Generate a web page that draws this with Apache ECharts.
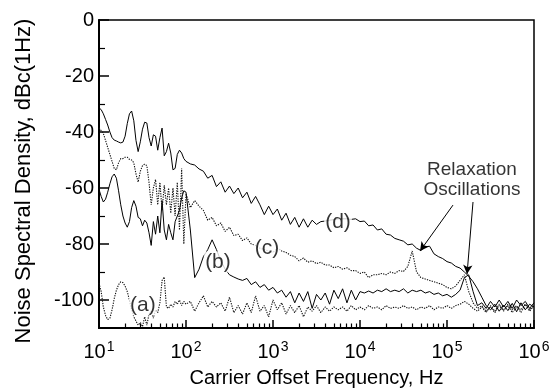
<!DOCTYPE html>
<html>
<head>
<meta charset="utf-8">
<script src="https://cdn.jsdelivr.net/npm/echarts@6/dist/echarts.min.js"></script>
<style>
html,body{margin:0;padding:0;background:#fff;}
#chart{width:551px;height:392px;}
</style>
</head>
<body>
<div id="chart"></div>
<script>
// Carrier offset frequency grid (Hz)
const freqHz = [
  10, 10.59, 11.22, 11.89, 12.59, 13.34, 14.13, 14.96, 15.85, 16.79,
  17.78, 18.84, 19.95, 21.13, 22.39, 23.71, 25.12, 26.61, 28.18, 29.85,
  31.62, 33.5, 35.48, 37.58, 39.81, 42.17, 44.67, 47.32, 50.12, 53.09,
  56.23, 59.57, 63.1, 66.83, 70.79, 74.99, 79.43, 84.14, 89.13, 94.41,
  100,
  112.2, 125.9, 141.3, 158.5, 177.8, 199.5, 223.9, 251.2, 281.8, 316.2,
  354.8, 398.1, 446.7, 501.2, 562.3, 631, 707.9, 794.3, 891.3, 1000,
  1122, 1259, 1413, 1585, 1778, 1995, 2239, 2512, 2818, 3162,
  3548, 3981, 4467, 5012, 5623, 6310, 7079, 7943, 8913, 10000,
  11220, 12590, 14130, 15850, 17780, 19950, 22390, 25120, 28180, 31620,
  35480, 39810, 44670, 50120, 56230, 63100, 70790, 79430, 89130, 100000,
  112200, 125900, 141300, 158500, 177800, 199500, 223900, 251200, 281800, 316200,
  354800, 398100, 446700, 501200, 562300, 631000, 707900, 794300, 891300, 1000000
];

// Noise spectral density, dBc(1Hz)
const dbA = [
  -94.0, -97.0, -102.5, -105.5, -107.0, -106.5, -103.5, -99.5, -96.5, -94.5,
  -93.5, -93.8, -95.0, -97.0, -100.0, -103.5, -106.0, -107.5, -109.0, -108.0,
  -109.5, -106.0, -109.0, -105.0, -104.0, -106.5, -103.5, -104.5, -101.0, -93.0,
  -91.8, -102.5, -103.0, -101.5, -102.5, -100.5, -101.5, -100.0, -102.0, -100.5,
  -101.5,
  -100.5, -104.0, -101.0, -98.5, -102.5, -100.5, -102.5, -101.0, -104.0, -99.0,
  -104.5, -102.0, -105.0, -101.0, -104.5, -98.5, -104.0, -102.0, -106.0, -100.0,
  -103.5, -101.0, -105.0, -102.0, -104.5, -102.0, -106.0, -102.5, -104.0, -102.0,
  -104.5, -102.5, -104.0, -102.5, -103.5, -102.5, -104.0, -102.0, -103.5, -102.5,
  -103.5, -102.0, -103.0, -102.5, -103.5, -102.0, -103.0, -102.5, -103.0, -102.0,
  -103.0, -102.5, -103.5, -102.5, -103.0, -102.0, -103.5, -102.5, -103.0, -102.0,
  -103.0, -102.0, -101.5, -100.5, -101.5, -103.0, -104.0, -102.5, -104.5, -102.0,
  -104.0, -101.5, -103.5, -102.0, -104.5, -102.5, -103.5, -101.5, -104.0, -102.0
];
const dbB = [
  -60.5, -63.0, -65.0, -64.0, -61.5, -58.5, -56.0, -55.0, -56.5, -61.0,
  -66.0, -70.0, -72.5, -74.0, -72.0, -67.0, -64.5, -66.5, -70.5, -71.0,
  -73.5, -71.5, -72.5, -76.0, -80.5, -72.0, -76.5, -70.0, -76.0, -64.5,
  -75.0, -78.5, -73.0, -76.0, -78.5, -72.0, -70.0, -68.0, -63.5, -61.0,
  -61.5,
  -75.0, -92.0, -89.0, -84.5, -82.0, -78.5, -82.0, -86.0, -89.0, -91.0,
  -91.8, -92.5, -93.0, -92.3, -94.5, -93.5, -95.5, -94.5, -96.5, -95.5,
  -97.5, -96.5, -99.0, -97.0, -101.0, -97.5, -100.5, -97.0, -103.0, -98.0,
  -100.0, -97.5, -101.5, -96.5, -99.5, -96.0, -101.0, -96.5, -100.0, -97.0,
  -97.5, -96.8, -97.5, -96.5, -97.0, -96.0, -97.0, -96.5, -97.0, -96.0,
  -97.5, -96.5, -97.0, -96.5, -97.5, -97.0, -98.0, -97.5, -98.5, -98.0,
  -99.0, -98.0, -96.5, -92.0, -91.0, -97.0, -102.0, -101.0, -103.0, -100.5,
  -102.5, -100.0, -102.5, -100.5, -103.0, -100.0, -102.0, -100.5, -103.0, -101.0
];
const dbC = [
  -38.5, -39.5, -40.5, -43.0, -45.5, -48.0, -50.5, -53.0, -53.5, -51.0,
  -49.5, -49.5, -49.0, -49.0, -49.8, -50.0, -51.0, -55.0, -57.9, -54.0,
  -52.0, -51.5, -52.0, -58.0, -66.0, -60.0, -57.0, -66.0, -58.0, -68.0,
  -59.0, -66.0, -60.0, -69.0, -60.0, -70.0, -58.0, -75.0, -53.0, -80.0,
  -62.0,
  -67.0, -64.5, -66.5, -68.0, -71.5, -70.5, -73.5, -72.5, -75.5, -74.0,
  -77.0, -76.5, -78.8, -77.8, -80.0, -80.5, -81.5, -82.0, -82.5, -83.0,
  -81.5, -82.5, -83.0, -84.0, -84.5, -86.0, -85.0, -86.5, -86.0, -87.0,
  -86.5, -87.5, -87.5, -88.5, -88.0, -89.0, -88.5, -89.5, -89.5, -90.5,
  -90.0, -92.0, -91.0, -91.0, -90.5, -91.0, -90.0, -90.5, -89.5, -89.8,
  -88.0, -82.5, -90.0, -92.0, -92.5, -93.0, -93.5, -94.0, -94.5, -95.5,
  -96.0, -95.0, -93.0, -91.0, -97.0, -101.0, -103.0, -102.0, -104.0, -102.5,
  -104.5, -102.0, -104.0, -101.5, -103.5, -102.0, -104.5, -101.5, -103.5, -102.0
];
const dbD = [
  -31.4, -32.0, -33.5, -35.5, -37.5, -40.0, -42.0, -42.9, -43.2, -43.6,
  -43.9, -43.6, -41.5, -37.0, -33.5, -32.5, -36.0, -43.0, -47.0, -43.5,
  -39.0, -36.5, -36.8, -42.0, -45.0, -41.0, -41.5, -46.5, -42.0, -38.6,
  -48.5, -47.0, -44.0, -47.5, -53.5, -53.0, -48.0, -46.5, -47.5, -49.5,
  -50.5,
  -51.4, -51.8, -53.2, -54.0, -56.5, -55.5, -59.5, -57.8, -61.5, -59.3,
  -62.0, -60.0, -63.5, -61.5, -65.5, -63.0, -66.0, -69.5, -66.5, -69.5,
  -67.5, -71.5, -69.0, -73.0, -70.5, -74.0, -71.0, -74.0, -71.5, -73.0,
  -72.0, -71.8, -71.5, -71.3, -71.0, -71.0, -71.0, -71.2, -71.0, -72.0,
  -71.8, -73.5, -73.2, -75.0, -74.6, -76.5, -76.8, -78.0, -78.5, -79.0,
  -80.3, -80.0, -81.5, -82.3, -81.0, -80.8, -83.5, -84.5, -85.2, -86.3,
  -86.8, -88.0, -88.6, -90.0, -91.5, -93.5, -96.0, -99.0, -102.0, -103.5,
  -101.5, -104.0, -101.8, -103.8, -101.2, -104.2, -101.0, -103.5, -101.5, -102.5
];

// Curve labels
const curveLabels = ['(a)', '(b)', '(c)', '(d)'];
const curveLabelFreq = [32, 233, 853, 5585];
const curveLabelDb = [-101.8, -86.4, -81.4, -72.1];

// Annotation text and arrows
const noteText = 'Relaxation\nOscillations';
const noteFreq = 193600;
const noteDb = -57.1;
const arrowFromFreq = [117200, 199000];
const arrowFromDb = [-66.1, -65.0];
const arrowToFreq = [49000, 170000];
const arrowToDb = [-82.5, -90.7];

// Axis ticks
const xDecades = [10, 100, 1000, 10000, 100000, 1000000];
const xMinorTicks = [
  20, 30, 40, 50, 60, 70, 80, 90,
  200, 300, 400, 500, 600, 700, 800, 900,
  2000, 3000, 4000, 5000, 6000, 7000, 8000, 9000,
  20000, 30000, 40000, 50000, 60000, 70000, 80000, 90000,
  200000, 300000, 400000, 500000, 600000, 700000, 800000, 900000
];
const yMajorTicks = [0, -20, -40, -60, -80, -100];
const yMinorTicks = [-10, -30, -50, -70, -90];

const FONT = 'Liberation Sans, Arial, Helvetica, sans-serif';
const pairs = (arr) => freqHz.map((f, i) => [f, arr[i]]);

const chart = echarts.init(document.getElementById('chart'), null, {renderer: 'canvas'});

const solid = {color: '#000', width: 1};
const dotted = {color: '#111', width: 1.1, type: [1.3, 1.2]};
const gridBox = {left: 99, right: 17, top: 20, bottom: 64, containLabel: false, outerBoundsMode: 'none'};

chart.setOption({
  animation: false,
  backgroundColor: '#fff',
  grid: [
    Object.assign({show: true, borderColor: '#000', borderWidth: 1.5, backgroundColor: 'transparent'}, gridBox),
    Object.assign({show: false}, gridBox)
  ],
  xAxis: [{
    type: 'log', logBase: 10, min: 10, max: 1000000, gridIndex: 0, position: 'bottom',
    name: 'Carrier Offset Frequency, Hz', nameLocation: 'middle', nameGap: 40,
    nameTextStyle: {fontSize: 20, color: '#000', fontFamily: FONT},
    axisLine: {show: true, onZero: false, lineStyle: {color: '#000', width: 2}},
    axisTick: {show: true, inside: true, length: 8, customValues: xDecades, lineStyle: {color: '#000', width: 1.5}},
    axisLabel: {
      customValues: xDecades, margin: 12, color: '#000', fontFamily: FONT,
      formatter: (v) => '{b|10}{s|' + Math.round(Math.log10(v)) + '}',
      rich: {
        b: {fontSize: 20, fontFamily: FONT, color: '#000'},
        s: {fontSize: 14, fontFamily: FONT, color: '#000', padding: [0, 0, 10, 1]}
      }
    },
    splitLine: {show: false}
  }, {
    type: 'log', logBase: 10, min: 10, max: 1000000, gridIndex: 1, position: 'bottom',
    axisLine: {show: false, onZero: false},
    axisTick: {show: true, inside: true, length: 4.5, customValues: xMinorTicks, lineStyle: {color: '#000', width: 1.2}},
    axisLabel: {show: false},
    splitLine: {show: false}
  }],
  yAxis: [{
    type: 'value', min: -110, max: 0, gridIndex: 0, position: 'left',
    name: 'Noise Spectral Density, dBc(1Hz)', nameLocation: 'middle', nameGap: 64,
    nameTextStyle: {fontSize: 22, color: '#000', fontFamily: FONT, padding: [0, 14, 0, 0]},
    axisLine: {show: true, onZero: false, lineStyle: {color: '#000', width: 2}},
    axisTick: {show: true, inside: true, length: 10, customValues: yMajorTicks, lineStyle: {color: '#000', width: 1.5}},
    axisLabel: {customValues: yMajorTicks, fontSize: 20, color: '#000', fontFamily: FONT, margin: 5},
    splitLine: {show: false}
  }, {
    type: 'value', min: -110, max: 0, gridIndex: 1, position: 'left',
    axisLine: {show: false, onZero: false},
    axisTick: {show: true, inside: true, length: 6, customValues: yMinorTicks, lineStyle: {color: '#000', width: 1.2}},
    axisLabel: {show: false},
    splitLine: {show: false}
  }],
  series: [
    {name: '(a)', type: 'line', data: pairs(dbA), showSymbol: false, symbol: 'none', lineStyle: dotted, z: 2},
    {name: '(b)', type: 'line', data: pairs(dbB), showSymbol: false, symbol: 'none', lineStyle: solid, z: 2},
    {name: '(c)', type: 'line', data: pairs(dbC), showSymbol: false, symbol: 'none', lineStyle: dotted, z: 2},
    {name: '(d)', type: 'line', data: pairs(dbD), showSymbol: false, symbol: 'none', lineStyle: solid, z: 3,
      markLine: {
        silent: true, symbol: ['none', 'arrow'], symbolSize: [7, 9],
        lineStyle: {color: '#000', width: 1, type: 'solid'},
        label: {show: false},
        data: arrowFromFreq.map((f, i) => [
          {coord: [f, arrowFromDb[i]]},
          {coord: [arrowToFreq[i], arrowToDb[i]]}
        ])
      }
    },
    {
      name: 'labels', type: 'scatter', symbolSize: 0, itemStyle: {color: 'rgba(0,0,0,0)'}, z: 10,
      data: curveLabelFreq.map((f, i) => ({value: [f, curveLabelDb[i]], name: curveLabels[i]})),
      label: {show: true, position: 'inside', formatter: '{b}', fontSize: 21, color: '#000', fontFamily: FONT,
        backgroundColor: '#fff', padding: [0, 1, 0, 1]}
    },
    {
      name: 'note', type: 'scatter', symbolSize: 0, itemStyle: {color: 'rgba(0,0,0,0)'}, z: 10,
      data: [{value: [noteFreq, noteDb], name: noteText}],
      label: {show: true, position: 'inside', formatter: '{b}', fontSize: 19, lineHeight: 20, color: '#000', fontFamily: FONT, align: 'center'}
    }
  ]
});
</script>
</body>
</html>
